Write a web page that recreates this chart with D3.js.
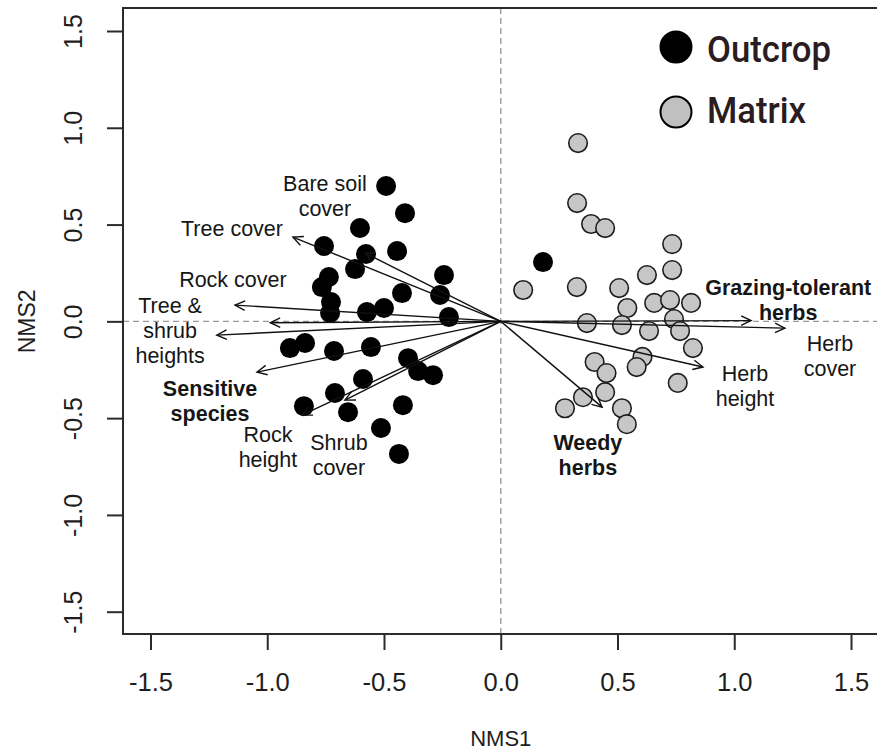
<!DOCTYPE html>
<html>
<head>
<meta charset="utf-8">
<script src="https://cdn.jsdelivr.net/npm/d3@7"></script>
<style>
  html, body { margin: 0; padding: 0; background: #fff; }
  svg { display: block; }
</style>
</head>
<body>
<svg id="chart" width="877" height="752"></svg>
<script>
// ---------- data ----------
const outcropX = [-0.491,-0.410,-0.603,-0.757,-0.577,-0.444,-0.624,-0.736,-0.766,-0.243,-0.423,-0.260,-0.727,-0.731,-0.573,-0.500,-0.222,-0.903,-0.838,-0.714,-0.556,-0.397,-0.354,-0.290,-0.590,-0.710,-0.843,-0.654,-0.419,-0.513,-0.436,0.181];
const outcropY = [0.699,0.559,0.482,0.389,0.348,0.363,0.270,0.229,0.177,0.239,0.146,0.136,0.100,0.043,0.048,0.069,0.022,-0.138,-0.112,-0.153,-0.133,-0.190,-0.257,-0.278,-0.298,-0.370,-0.438,-0.469,-0.433,-0.551,-0.685,0.306];

const matrixX = [0.331,0.327,0.387,0.447,0.734,0.734,0.626,0.096,0.326,0.507,0.542,0.657,0.725,0.815,0.742,0.369,0.519,0.635,0.768,0.823,0.607,0.582,0.402,0.453,0.758,0.352,0.447,0.275,0.519,0.540];
const matrixY = [0.921,0.611,0.503,0.482,0.399,0.265,0.239,0.162,0.177,0.172,0.069,0.095,0.110,0.095,0.012,-0.009,-0.019,-0.050,-0.050,-0.138,-0.184,-0.236,-0.210,-0.267,-0.318,-0.392,-0.366,-0.449,-0.449,-0.531];

// environmental vectors (arrow tips)
const vectorNames = ["Bare soil cover","Tree cover","Rock cover","Tree height","Shrub height","Sensitive species","Rock height","Shrub cover","Weedy herbs","Herb height","Grazing-tolerant herbs","Herb cover"];
const vectorX = [-0.581,-0.890,-1.138,-0.987,-1.216,-1.044,-0.851,-0.667,0.434,0.866,1.072,1.217];
const vectorY = [0.353,0.435,0.084,-0.007,-0.071,-0.262,-0.484,-0.407,-0.443,-0.236,0.004,-0.035];

// vector labels (lines of text, anchor in NMS units, bold flag)
const labelLines = [["Bare soil","cover"],["Tree cover"],["Rock cover"],["Tree &","shrub","heights"],["Sensitive","species"],["Rock","height"],["Shrub","cover"],["Weedy","herbs"],["Grazing-tolerant","herbs"],["Herb","cover"],["Herb","height"]];
const labelX = [-0.753,-1.151,-1.147,-1.416,-1.245,-0.997,-0.693,0.373,1.231,1.410,1.046];
const labelY = [0.714,0.482,0.218,0.084,-0.345,-0.585,-0.626,-0.624,0.177,-0.117,-0.267];
const labelBold = [false,false,false,false,true,false,false,true,true,false,false];

const tickValues = [-1.5,-1.0,-0.5,0.0,0.5,1.0,1.5];
const legendLabels = ["Outcrop","Matrix"];

// ---------- layout ----------
const svg = d3.select("#chart");
const plot = {left: 123, top: 8, bottom: 634, right: 890};
const x = d3.scaleLinear().domain([-1.5, 1.5]).range([150.5, 851]);
const y = d3.scaleLinear().domain([-1.5, 1.5]).range([611.7, 31]);
const FONT = "'Liberation Sans', Arial, Helvetica, sans-serif";
const AXIS_COLOR = "#2b2b2b";

// zero reference lines
svg.append("line")
  .attr("x1", x(0)).attr("x2", x(0)).attr("y1", plot.top).attr("y2", plot.bottom)
  .attr("stroke", "#9a9a9a").attr("stroke-width", 1.4).attr("stroke-dasharray", "6,4");
svg.append("line")
  .attr("x1", plot.left).attr("x2", 877).attr("y1", y(0)).attr("y2", y(0))
  .attr("stroke", "#9a9a9a").attr("stroke-width", 1.4).attr("stroke-dasharray", "6,4");

// points
svg.append("g").selectAll("circle").data(matrixX.map((d, i) => [d, matrixY[i]]))
  .join("circle")
  .attr("cx", d => x(d[0])).attr("cy", d => y(d[1])).attr("r", 9.3)
  .attr("fill", "#c6c6c6").attr("stroke", "#1e1e1e").attr("stroke-width", 1.6);
svg.append("g").selectAll("circle").data(outcropX.map((d, i) => [d, outcropY[i]]))
  .join("circle")
  .attr("cx", d => x(d[0])).attr("cy", d => y(d[1])).attr("r", 10)
  .attr("fill", "#000");

// arrows
const ga = svg.append("g").attr("stroke", "#111").attr("stroke-width", 1.4).attr("fill", "none");
vectorX.forEach((vx, i) => {
  const x0 = x(0), y0 = y(0), x1 = x(vx), y1 = y(vectorY[i]);
  ga.append("line").attr("x1", x0).attr("y1", y0).attr("x2", x1).attr("y2", y1);
  const ang = Math.atan2(y1 - y0, x1 - x0);
  const L = 11, a = 0.45;
  const p = [
    [x1 - L * Math.cos(ang - a), y1 - L * Math.sin(ang - a)],
    [x1, y1],
    [x1 - L * Math.cos(ang + a), y1 - L * Math.sin(ang + a)]
  ];
  ga.append("path").attr("d", d3.line()(p));
});

// vector labels
const LFS = 21.5, LH = 25;
labelLines.forEach((lines, i) => {
  const t = svg.append("text")
    .attr("font-family", FONT).attr("font-size", LFS)
    .attr("font-weight", labelBold[i] ? "bold" : "normal")
    .attr("fill", "#161616").attr("text-anchor", "middle");
  lines.forEach((s, j) => {
    t.append("tspan").attr("x", x(labelX[i])).attr("y", y(labelY[i]) + 7.5 + j * LH).text(s);
  });
});

// frame (right side beyond the visible area)
svg.append("path")
  .attr("d", `M${plot.right},${plot.top}H${plot.left}V${plot.bottom}H${plot.right}`)
  .attr("fill", "none").attr("stroke", AXIS_COLOR).attr("stroke-width", 2);

// x axis
const xa = svg.append("g").attr("transform", `translate(0,${plot.bottom})`)
  .call(d3.axisBottom(x).tickValues(tickValues).tickSize(16).tickFormat(d => d.toFixed(1)));
xa.select(".domain").remove();
xa.selectAll("line").attr("stroke", AXIS_COLOR).attr("stroke-width", 2);
xa.selectAll("text").attr("y", 57).attr("dy", null)
  .attr("font-family", FONT).attr("font-size", 25.5).attr("fill", "#1e1e1e");

// y axis
const ya = svg.append("g").attr("transform", `translate(${plot.left},0)`)
  .call(d3.axisLeft(y).tickValues(tickValues).tickSize(16).tickFormat(d => d.toFixed(1)));
ya.select(".domain").remove();
ya.selectAll("line").attr("stroke", AXIS_COLOR).attr("stroke-width", 2);
ya.selectAll("text").attr("transform", "rotate(-90)").attr("x", 0).attr("y", -41)
  .attr("dy", null).attr("text-anchor", "middle")
  .attr("font-family", FONT).attr("font-size", 25).attr("fill", "#1e1e1e");

// axis titles
svg.append("text").attr("x", x(0)).attr("y", 746).attr("text-anchor", "middle")
  .attr("font-family", FONT).attr("font-size", 22).attr("fill", "#1e1e1e").text("NMS1");
svg.append("text").attr("transform", `translate(35,${y(0)}) rotate(-90)`).attr("text-anchor", "middle")
  .attr("font-family", FONT).attr("font-size", 23).attr("fill", "#1e1e1e").text("NMS2");

// legend
const legend = svg.append("g");
const legFill = ["#000", "#c0c0c0"];
const legCy = [47, 112];
const legBase = [61.5, 123];
const legLen = [124, 99];
legendLabels.forEach((lab, i) => {
  legend.append("circle").attr("cx", 676).attr("cy", legCy[i]).attr("r", 15.5)
    .attr("fill", legFill[i]).attr("stroke", "#000").attr("stroke-width", 2);
  legend.append("text").attr("x", 707).attr("y", legBase[i])
    .attr("font-family", "Roboto, 'Noto Sans', sans-serif").attr("font-size", 37)
    .attr("font-weight", 500)
    .attr("fill", "#2a1c1f")
    .attr("textLength", legLen[i]).attr("lengthAdjust", "spacingAndGlyphs")
    .text(lab);
});
</script>
</body>
</html>
